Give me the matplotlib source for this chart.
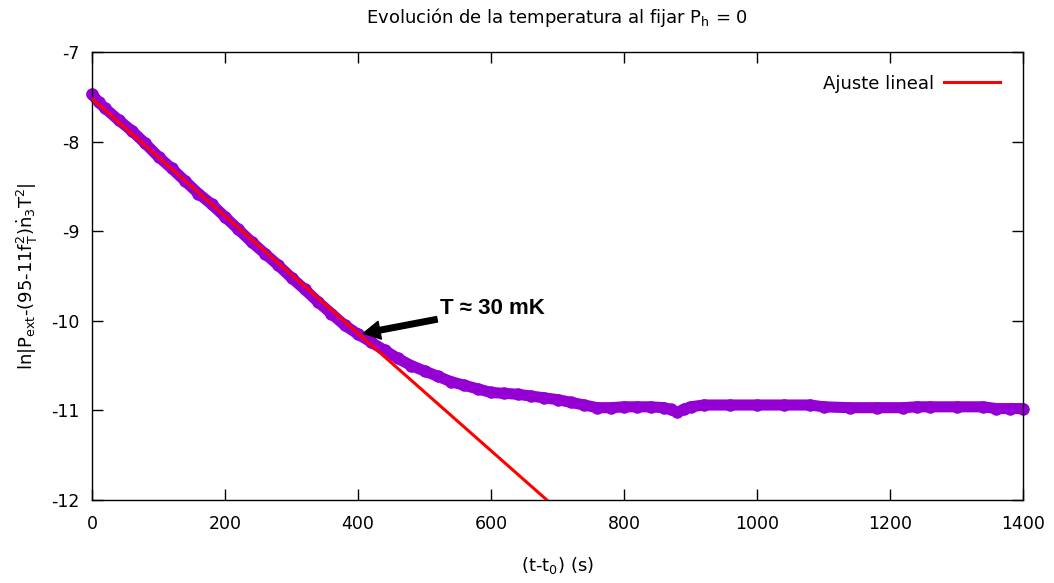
import matplotlib.pyplot as plt
import numpy as np

plt.rcParams['font.family'] = ['DejaVu Sans']
plt.rcParams['mathtext.default'] = 'regular'
plt.rcParams['axes.unicode_minus'] = False

# measured data (t - t0 in s, log value)
t_data = [0, 10, 20, 40, 60, 80, 100, 120, 140, 160, 180, 200, 220, 240, 260,
          280, 300, 320, 340, 360, 380, 400, 420, 440, 460, 480, 500, 520, 540,
          560, 580, 600, 620, 640, 660, 680, 700, 720, 740, 760, 780, 800, 820,
          840, 860, 870, 880, 890, 900, 920, 960, 1000, 1040, 1080, 1100, 1140,
          1180, 1220, 1240, 1260, 1300, 1340, 1360, 1380, 1400]
y_data = [-7.47, -7.56, -7.63, -7.76, -7.88, -8.02, -8.17, -8.30, -8.44, -8.58,
          -8.70, -8.84, -8.98, -9.12, -9.25, -9.38, -9.52, -9.65, -9.79, -9.92,
          -10.05, -10.15, -10.24, -10.33, -10.42, -10.50, -10.56, -10.62, -10.68,
          -10.72, -10.76, -10.80, -10.81, -10.82, -10.84, -10.86, -10.88, -10.91,
          -10.94, -10.97, -10.97, -10.96, -10.96, -10.96, -10.97, -10.99, -11.02,
          -10.99, -10.96, -10.94, -10.94, -10.94, -10.94, -10.94, -10.96, -10.97,
          -10.97, -10.97, -10.96, -10.96, -10.96, -10.96, -10.98, -10.98, -10.98]

# linear fit parameters
fit_a = -7.52
fit_b = -0.00655
t_fit = [0, 720]

fig = plt.figure(figsize=(10.54, 5.83), dpi=100)
ax = fig.add_axes([0.0873, 0.1424, 0.8833, 0.7684])

ax.plot(t_data, y_data, color='#9400D3', lw=8, solid_capstyle='round',
        solid_joinstyle='round', zorder=2, clip_on=False)
ax.plot(t_data, y_data, 'o', color='#9400D3', ms=8, zorder=2, clip_on=False)
ax.plot(t_fit, [fit_a + fit_b * t for t in t_fit], color='red', lw=2.2,
        zorder=3, label='Ajuste lineal')

ax.set_xlim(0, 1400)
ax.set_ylim(-12, -7)
ax.set_xticks(np.arange(0, 1401, 200))
ax.set_yticks(np.arange(-12, -6.9, 1))
ax.tick_params(direction='in', length=8, width=1, top=True, right=True,
               labelsize=12.5)
ax.tick_params(axis='x', pad=11)
ax.tick_params(axis='y', pad=9)
for s in ax.spines.values():
    s.set_linewidth(1)

ax.set_title('Evolución de la temperatura al fijar P$_h$ = 0', fontsize=13, pad=21)
ax.set_xlabel('(t-t$_0$) (s)', fontsize=13, labelpad=16)
ax.set_ylabel(r'ln|P$_{ext}$-(95-11f$_T^2$)$\dot{n}_3$T$^2$|', fontsize=13,
              labelpad=8)

ax.legend(loc='upper right', frameon=False, markerfirst=False, fontsize=13,
          handlelength=3.1, handletextpad=0.6, borderaxespad=0.85)

ax.annotate('T ≈ 30 mK', xy=(408, -10.14), xytext=(523, -9.86),
            fontsize=16, fontweight='bold', family='Liberation Sans',
            va='center', ha='left',
            arrowprops=dict(facecolor='black', edgecolor='black', width=4,
                            headwidth=13, headlength=12, shrink=0.0),
            zorder=4)

plt.savefig('out.png', dpi=100)
